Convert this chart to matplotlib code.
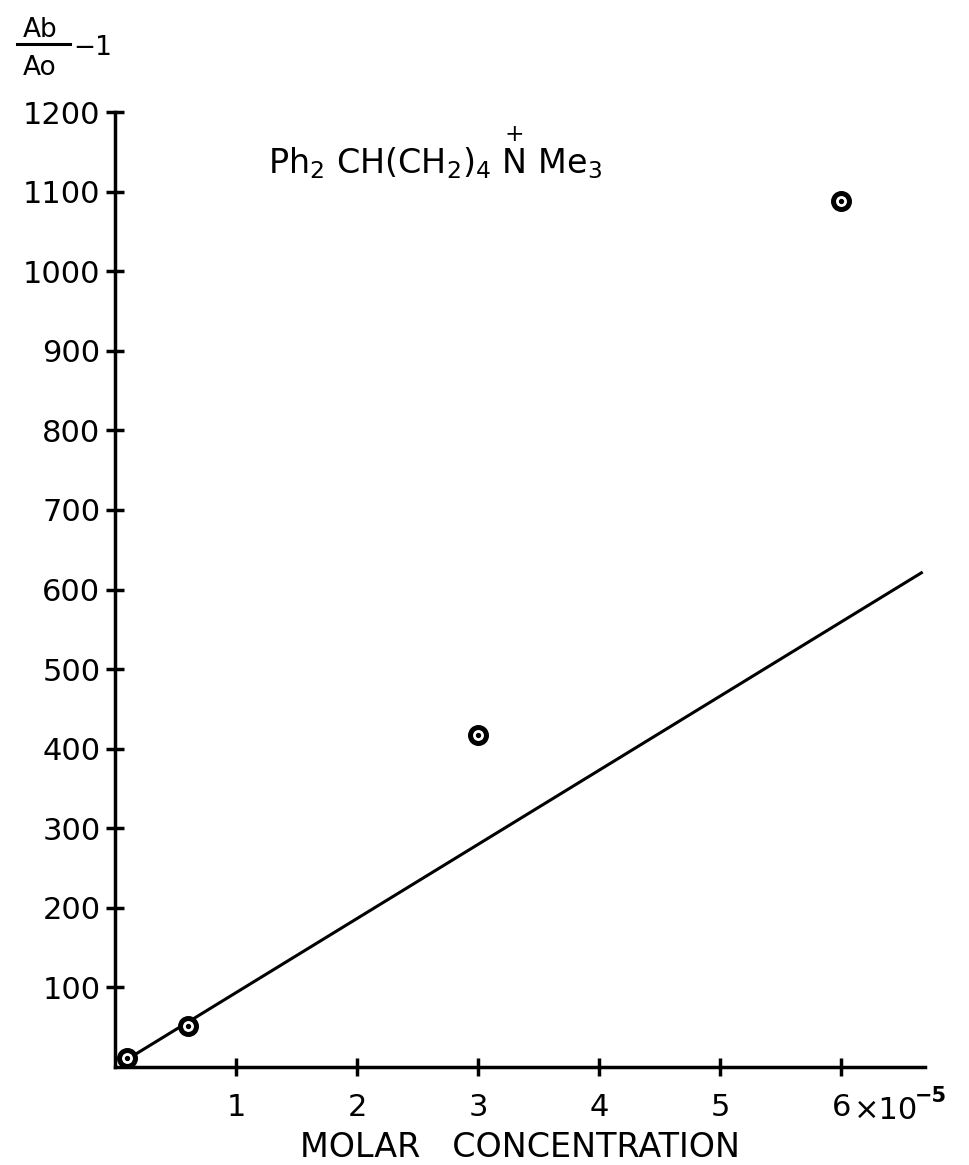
import matplotlib
matplotlib.use('Agg')
import matplotlib.pyplot as plt
from matplotlib.lines import Line2D

# data (x in units of 1e-5 M)
conc = [0.1, 0.6, 3.0, 6.0]
ratio = [11, 52, 417, 1088]
fit_x = [0.05, 6.66]
fit_y = [5, 621]
xticks = [1, 2, 3, 4, 5, 6]
yticks = [100, 200, 300, 400, 500, 600, 700, 800, 900, 1000, 1100, 1200]

plt.rcParams['font.family'] = ['DejaVu Sans']
plt.rcParams['mathtext.fontset'] = 'dejavusans'

fig = plt.figure(figsize=(9.7, 11.65), dpi=100)
ax = fig.add_axes([0.1186, 0.0841, 0.835, 0.8197])

ax.plot(fit_x, fit_y, color='black', lw=2.2, zorder=2)
ax.plot(conc, ratio, 'o', ms=11.5, mfc='white', mec='black', mew=3.6, zorder=3,
        clip_on=False)
ax.plot(conc, ratio, 'o', ms=2.8, color='black', zorder=4, clip_on=False)

ax.set_xlim(0, 6.69)
ax.set_ylim(0, 1200)
ax.spines['top'].set_visible(False)
ax.spines['right'].set_visible(False)
ax.spines['left'].set_linewidth(2.5)
ax.spines['bottom'].set_linewidth(2.5)

ax.set_xticks(xticks)
ax.set_xticklabels([str(t) for t in xticks])
ax.set_yticks(yticks)
ax.set_yticklabels([str(t) for t in yticks])
ax.tick_params(direction='inout', length=13, width=2.5, labelsize=22, pad=4)
ax.tick_params(axis='x', pad=12)

# exponent after the last x tick label
ax.annotate('\u00d710', xy=(6, 0), xycoords='data', xytext=(9, -21),
            textcoords='offset points', ha='left', va='top', fontsize=22)
ax.annotate('\u22125', xy=(6, 0), xycoords='data', xytext=(53, -14),
            textcoords='offset points', ha='left', va='top', fontsize=15,
            fontweight='bold')

ax.set_xlabel('MOLAR   CONCENTRATION', fontsize=24, labelpad=7)

# y label as a fraction in the top left corner
fig.text(40/970, 1 - 30/1165, 'Ab', fontsize=19, ha='center', va='center')
fig.text(40/970, 1 - 68/1165, 'Ao', fontsize=19, ha='center', va='center')
fig.add_artist(Line2D([17/970, 70/970], [1 - 44/1165, 1 - 44/1165],
                      color='black', lw=2.2))
fig.text(73/970, 1 - 48/1165, '\u22121', fontsize=19, ha='left', va='center')

# compound label
ax.text(1.26, 1148, r'Ph$_2$ CH(CH$_2$)$_4$ $\overset{+}{\mathrm{N}}$ Me$_3$',
        fontsize=24, ha='left', va='center')

fig.savefig('out.png', dpi=100)
